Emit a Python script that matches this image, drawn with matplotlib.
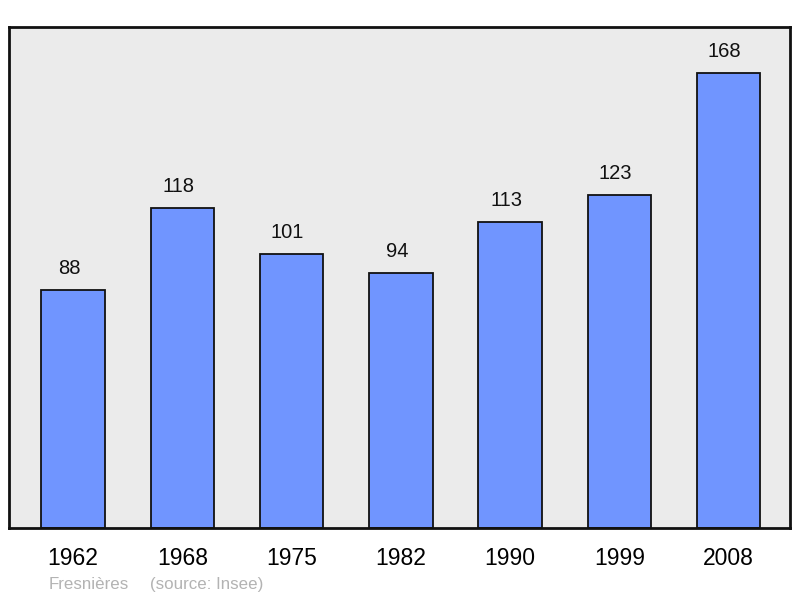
import matplotlib
matplotlib.use("Agg")
import matplotlib.pyplot as plt
from matplotlib.transforms import offset_copy

years = ["1962", "1968", "1975", "1982", "1990", "1999", "2008"]
population = [88, 118, 101, 94, 113, 123, 168]

plt.rcParams['font.family'] = ['Liberation Sans', 'DejaVu Sans']

fig = plt.figure(figsize=(8.0, 5.98), dpi=100)
ax = fig.add_axes([9/800, 70/598, 781/800, 501/598])
ax.set_facecolor('#ebebeb')

x = list(range(len(years)))
ax.bar(x, population, width=0.58, color='#7095ff', edgecolor='#111111', linewidth=1.3, zorder=2)
tr = offset_copy(ax.transData, fig=fig, x=-4, y=12, units='dots')
for xi, v in zip(x, population):
    ax.text(xi, v, str(v), ha='center', va='bottom', fontsize=14.5, color='#111111', transform=tr)

ax.set_xlim(-0.585, 6.56)
ax.set_ylim(0, 185)
ax.set_xticks(x)
ax.set_xticklabels(years, fontsize=16.5)
ax.tick_params(axis='x', length=0, pad=14)
ax.set_yticks([])
for s in ax.spines.values():
    s.set_linewidth(2)
    s.set_color('#111111')

fig.text(49/800, 1 - 589/598, "Fresnières", fontsize=12.2, color='#b3b3b3', va='baseline', ha='left')
fig.text(150/800, 1 - 589/598, "(source: Insee)", fontsize=12.2, color='#b3b3b3', va='baseline', ha='left')

fig.savefig("out.png", dpi=100)
